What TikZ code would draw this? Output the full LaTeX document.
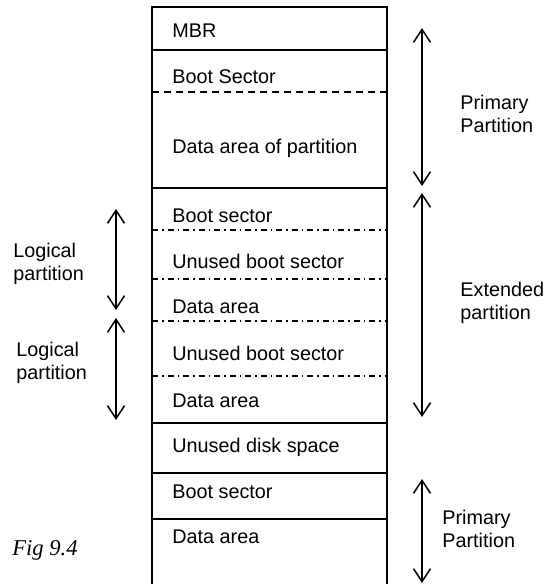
\documentclass[tikz,border=0pt]{standalone}
\usepackage{fontspec}
\setmainfont{Liberation Sans}
\newfontfamily\captionfont{Liberation Serif}
\usetikzlibrary{arrows.meta}

\tikzset{
  frame/.style={line width=0.75pt},
  sep dashed/.style={line width=0.6pt, dash pattern=on 3.5pt off 2.5pt},
  sep dashdot/.style={line width=0.6pt, dash pattern=on 3pt off 2pt on 0.75pt off 2pt},
  row text/.style={anchor=base west, inner sep=0pt, font=\fontsize{9.9}{11.6}\selectfont},
  side label/.style={anchor=north west, inner sep=0pt, align=left, font=\fontsize{9.9}{11.6}\selectfont},
  span/.style={{Straight Barb[length=6.5pt,width=8.5pt]}-{Straight Barb[length=6.5pt,width=8.5pt]}, line width=0.75pt},
}

\begin{document}
\begin{tikzpicture}[x=0.5pt, y=-0.5pt]
  \useasboundingbox (0,0) rectangle (544,584);

  % outer frame of the disk (open at the bottom)
  \coordinate (tl) at (152,7);
  \coordinate (tr) at (387,7);
  \coordinate (bl) at (152,586);
  \coordinate (br) at (387,586);
  \draw[frame] (bl) -- (tl) -- (tr) -- (br);

  % solid separators
  \foreach \y in {50,188,423,473,519}
    \draw[frame] (152,\y) -- (387,\y);
  % dashed separator inside the first primary partition
  \draw[sep dashed] (152,92) -- (387,92);
  % dash-dot separators inside the extended partition
  \foreach \y in {230,279,321,376}
    \draw[sep dashdot] (152,\y) -- (387,\y);

  % contents of the disk
  \node[row text] (mbr)  at (172,37)  {MBR};
  \node[row text] (bs1)  at (172,83)  {Boot Sector};
  \node[row text] (da1)  at (172,153) {Data area of partition};
  \node[row text] (bs2)  at (172,222) {Boot sector};
  \node[row text] (ub1)  at (172,268) {Unused boot sector};
  \node[row text] (da2)  at (172,313) {Data area};
  \node[row text] (ub2)  at (172,360) {Unused boot sector};
  \node[row text] (da3)  at (172,407) {Data area};
  \node[row text] (uds)  at (172,452) {Unused disk space};
  \node[row text] (bs3)  at (172,498) {Boot sector};
  \node[row text] (da4)  at (172,543) {Data area};

  % span markers on the right
  \coordinate (p1top) at (422,28);
  \coordinate (p1bot) at (422,186);
  \coordinate (extop) at (422,193);
  \coordinate (exbot) at (422,417);
  \coordinate (p2top) at (422,479);
  \coordinate (p2bot) at (422,583);
  \draw[span] (p1top) -- (p1bot);
  \draw[span] (extop) -- (exbot);
  \draw[span] (p2top) -- (p2bot);

  % span markers on the left
  \coordinate (l1top) at (116,209);
  \coordinate (l1bot) at (116,310);
  \coordinate (l2top) at (116,318);
  \coordinate (l2bot) at (116,420);
  \draw[span] (l1top) -- (l1bot);
  \draw[span] (l2top) -- (l2bot);

  % span labels
  \node[side label] (prim1) at (460,95)  {Primary\\Partition};
  \node[side label] (ext)   at (460,282) {Extended\\partition};
  \node[side label] (prim2) at (442,510) {Primary\\Partition};
  \node[side label] (log1)  at (13,243)  {Logical\\partition};
  \node[side label] (log2)  at (16,342)  {Logical\\partition};

  % figure caption
  \node[anchor=base west, inner sep=0pt, font=\captionfont\itshape\fontsize{11.3}{13}\selectfont] (cap) at (12,555) {Fig 9.4};
\end{tikzpicture}
\end{document}
